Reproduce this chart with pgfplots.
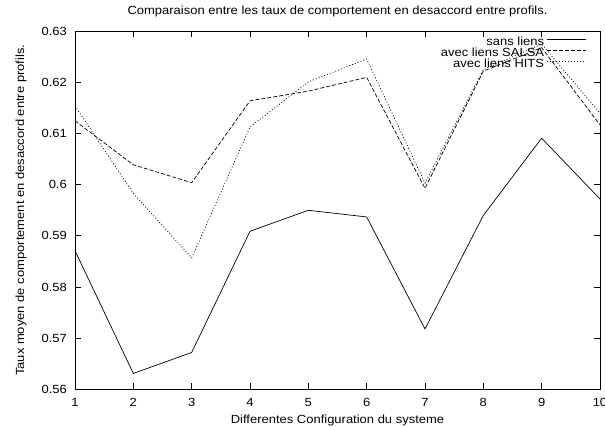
\documentclass[border=0pt]{standalone}
\usepackage{fontspec}
\setmainfont{Liberation Sans}[FakeStretch=1.1]
\usepackage{pgfplots}
\pgfplotsset{compat=1.18}
\begin{document}
\begin{tikzpicture}[font=\fontsize{11.8}{13}\selectfont]
\begin{axis}[
  name=ax,
  scale only axis,
  width=525pt, height=358pt,
  xmin=1, xmax=10, ymin=0.56, ymax=0.63,
  xtick={1,2,3,4,5,6,7,8,9,10},
  ytick={0.56,0.57,0.58,0.59,0.60,0.61,0.62,0.63},
  yticklabels={0.56,0.57,0.58,0.59,0.6,0.61,0.62,0.63},
  /pgf/number format/assume math mode=true,
  tick align=inside,
  major tick length=6pt,
  minor tick num=0,
  axis line style={line width=0.8pt},
  every tick/.style={line width=0.8pt, black},
  yticklabel style={inner sep=0pt, anchor=east, xshift=-8pt},
  xticklabel style={inner sep=0pt, anchor=north, yshift=-9pt},
  title={Comparaison entre les taux de comportement en desaccord entre profils.},
  title style={at={(axis description cs:0.5,1.040)}, anchor=center, inner sep=0pt},
  xlabel={Differentes Configuration du systeme},
  xlabel style={at={(axis description cs:0.5,-0.0866)}, anchor=center, inner sep=0pt},
  ylabel={Taux moyen de comportement en desaccord entre profils.},
  ylabel style={at={(axis description cs:-0.1029,0.5)}, anchor=center, inner sep=0pt, rotate=0},
  legend plot pos=right,
  legend cell align=right,
  legend image code/.code={\draw[#1] (0pt,3.5pt) -- (39pt,3.5pt);},
  legend style={at={(axis description cs:1,1)}, anchor=north east,
    xshift=-13pt, yshift=-5.3pt, draw=none, fill=none, inner sep=0pt,
    row sep=0pt, column sep=3pt,
    nodes={inner sep=0pt, text height=8.3pt, text depth=3pt},
    font=\fontsize{11.8}{13}\selectfont},
]
\addplot[black, line width=0.7pt] coordinates {
(1,0.5871)(2,0.5631)(3,0.5672)(4,0.5909)(5,0.5950)(6,0.5937)(7,0.5718)(8,0.5940)(9,0.6091)(10,0.5972)};
\addlegendentry{sans liens}
\addplot[black, line width=0.7pt, dash pattern=on 4pt off 2pt] coordinates {
(1,0.6125)(2,0.6039)(3,0.6004)(4,0.6164)(5,0.6183)(6,0.6210)(7,0.5993)(8,0.6222)(9,0.6268)(10,0.6117)};
\addlegendentry{avec liens SALSA}
\addplot[black, line width=0.7pt, dash pattern=on 1pt off 2pt] coordinates {
(1,0.6154)(2,0.5983)(3,0.5857)(4,0.6113)(5,0.6201)(6,0.6246)(7,0.6003)(8,0.6225)(9,0.6275)(10,0.6140)};
\addlegendentry{avec liens HITS}
\end{axis}
\pgfresetboundingbox
\path ([xshift=-75pt,yshift=-37.5pt]ax.south west) rectangle ([xshift=5pt,yshift=31.3pt]ax.north east);
\end{tikzpicture}
\end{document}
